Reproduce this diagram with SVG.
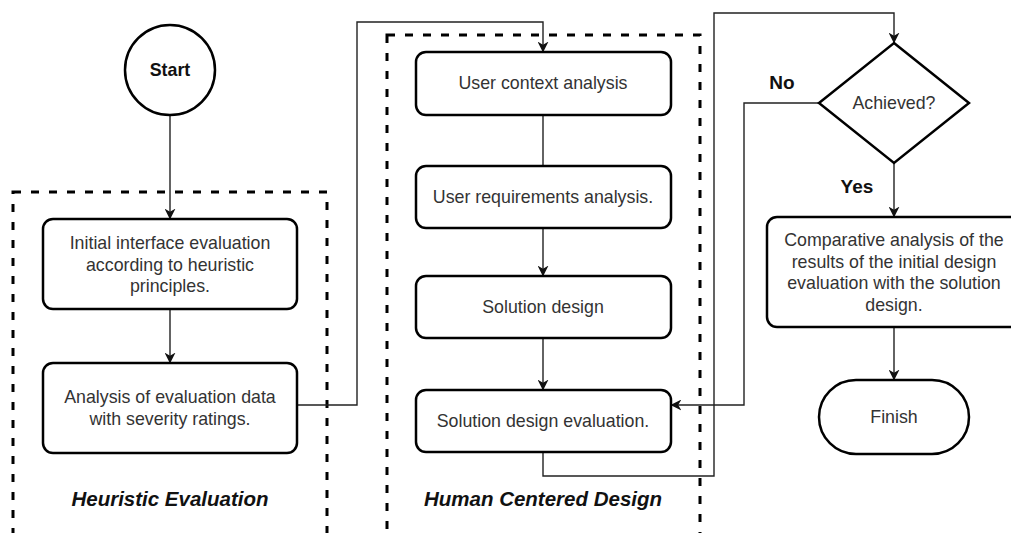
<svg xmlns="http://www.w3.org/2000/svg" width="1011" height="533" viewBox="0 0 1011 533">
  <style>
    .box { fill: #fff; stroke: #000; stroke-width: 2.5; }
    .lane { fill: none; stroke: #000; stroke-width: 3; stroke-dasharray: 8 10; }
    .edge { fill: none; stroke: #222; stroke-width: 1.4; }
    .txt { font-family: "Liberation Sans", Arial, sans-serif; font-size: 17.8px; fill: #333; text-anchor: middle; }
    .bold { font-family: "Liberation Sans", Arial, sans-serif; font-size: 17.8px; font-weight: bold; fill: #111; text-anchor: middle; }
    .label { font-family: "Liberation Sans", Arial, sans-serif; font-size: 19px; font-weight: bold; fill: #111; text-anchor: middle; }
    .title { font-family: "Liberation Sans", Arial, sans-serif; font-size: 20.5px; font-weight: bold; font-style: italic; fill: #111; text-anchor: middle; }
  </style>
  <defs>
    <marker id="arrow" viewBox="0 0 10 10" refX="9.5" refY="5" markerWidth="11" markerHeight="11" markerUnits="userSpaceOnUse" orient="auto">
      <path d="M0,0 L10,5 L0,10 L3,5 Z" fill="#111"/>
    </marker>
  </defs>
  <rect width="1011" height="533" fill="#fff"/>

  <!-- swimlane containers (bottom edge runs just past the canvas) -->
  <g id="lane-heuristic">
    <rect class="lane" x="13" y="192" width="314" height="344"/>
    <text class="title" x="170" y="506">Heuristic Evaluation</text>
  </g>
  <g id="lane-hcd">
    <rect class="lane" x="387" y="35" width="313" height="501"/>
    <text class="title" x="543" y="506">Human Centered Design</text>
  </g>

  <!-- connectors -->
  <g id="connectors">
    <path class="edge" d="M170,115 V219" marker-end="url(#arrow)"/>
    <path class="edge" d="M170,309 V363" marker-end="url(#arrow)"/>
    <path class="edge" d="M297,405 H357 V22 H543 V52" marker-end="url(#arrow)"/>
    <path class="edge" d="M543,115 V166"/>
    <path class="edge" d="M543,228 V276" marker-end="url(#arrow)"/>
    <path class="edge" d="M543,338 V390" marker-end="url(#arrow)"/>
    <path class="edge" d="M543,452 V476 H714 V13 H894 V43" marker-end="url(#arrow)"/>
    <path class="edge" d="M819,103 H744 V405 H671" marker-end="url(#arrow)"/>
    <path class="edge" d="M894,163 V217" marker-end="url(#arrow)"/>
    <path class="edge" d="M894,327 V380" marker-end="url(#arrow)"/>
    <text class="label" x="782" y="89">No</text>
    <text class="label" x="857" y="193">Yes</text>
  </g>

  <!-- nodes -->
  <g id="start">
    <circle class="box" cx="170" cy="70" r="45"/>
    <text class="bold" x="170" y="76">Start</text>
  </g>
  <g id="initial-evaluation">
    <rect class="box" x="43" y="219" width="254" height="90" rx="10"/>
    <text class="txt" x="170" y="249">Initial interface evaluation</text>
    <text class="txt" x="170" y="270.5">according to heuristic</text>
    <text class="txt" x="170" y="292">principles.</text>
  </g>
  <g id="severity-analysis">
    <rect class="box" x="43" y="363" width="254" height="90" rx="10"/>
    <text class="txt" x="170" y="403">Analysis of evaluation data</text>
    <text class="txt" x="170" y="425">with severity ratings.</text>
  </g>
  <g id="user-context">
    <rect class="box" x="416" y="52" width="255" height="63" rx="10"/>
    <text class="txt" x="543" y="89">User context analysis</text>
  </g>
  <g id="user-requirements">
    <rect class="box" x="416" y="166" width="255" height="62" rx="10"/>
    <text class="txt" x="543" y="203">User requirements analysis.</text>
  </g>
  <g id="solution-design">
    <rect class="box" x="416" y="276" width="255" height="62" rx="10"/>
    <text class="txt" x="543" y="313">Solution design</text>
  </g>
  <g id="solution-evaluation">
    <rect class="box" x="416" y="390" width="255" height="62" rx="10"/>
    <text class="txt" x="543" y="427">Solution design evaluation.</text>
  </g>
  <g id="achieved">
    <polygon class="box" points="894,43 969,103 894,163 819,103"/>
    <text class="txt" x="894" y="109">Achieved?</text>
  </g>
  <g id="comparative-analysis">
    <rect class="box" x="767" y="217" width="254" height="110" rx="10"/>
    <text class="txt" x="894" y="246">Comparative analysis of the</text>
    <text class="txt" x="894" y="267.5">results of the initial design</text>
    <text class="txt" x="894" y="289">evaluation with the solution</text>
    <text class="txt" x="894" y="310.5">design.</text>
  </g>
  <g id="finish">
    <rect class="box" x="819" y="380" width="150" height="74" rx="37"/>
    <text class="txt" x="894" y="423">Finish</text>
  </g>
</svg>
